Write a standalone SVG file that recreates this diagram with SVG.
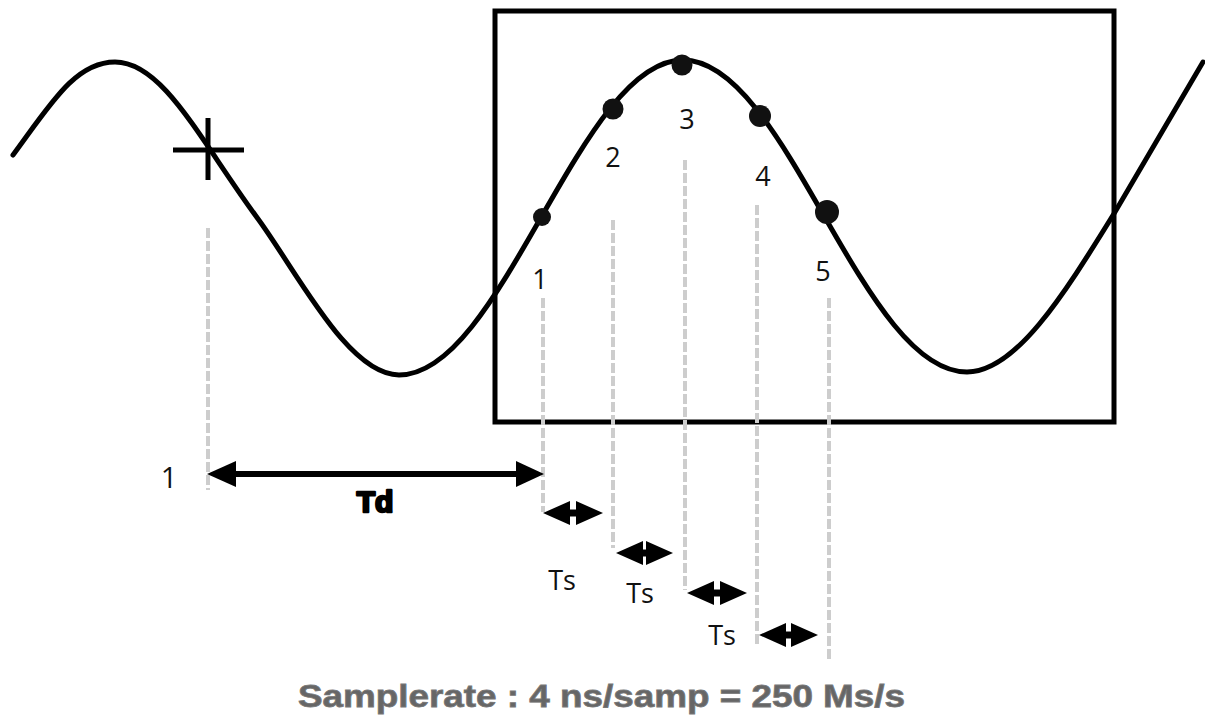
<svg xmlns="http://www.w3.org/2000/svg" width="1205" height="718" viewBox="0 0 1205 718">
<style>
.wave{fill:none;stroke:#000;stroke-width:5;stroke-linecap:round;stroke-linejoin:round}
.box{fill:none;stroke:#000;stroke-width:5}
.guide{stroke:#cdcdcd;stroke-width:4;stroke-dasharray:10 3;fill:none}
.dot{fill:#111}
.lbl{font-family:"Open Sans","Liberation Sans",sans-serif;font-size:27px;fill:#111}
.arr{stroke:#000;stroke-width:5;fill:none}
.bar{stroke:#000;stroke-width:7;fill:none}
.head{fill:#000}
.td{font-family:"Liberation Sans",Arial,sans-serif;font-weight:bold;font-size:30px;fill:#000;stroke:#000;stroke-width:2.5;stroke-linejoin:round}
.cap{font-family:"Liberation Sans",Arial,sans-serif;font-weight:bold;font-size:31px;fill:#666;stroke:#777;stroke-width:0.8}
</style>
<rect width="1205" height="718" fill="#fff"/>
<g id="frame">
<rect class="box" x="495" y="11" width="619" height="411"/>
</g>
<g id="waveform">
<path class="wave" d="M13,155 C50,105 75,62 115,62 C163,62 200,140 257,217.5 C297,271.5 348,375 399,375 C450.4,375 494.7,298.2 541,217.5 C587.3,136.8 631.6,60 683,60 C734.4,60 778.7,136.8 825,217.5 C871.3,298.2 915.6,372 967,372 C1015,372 1062,298 1115,212 L1203,62"/>
</g>
<g id="trigger">
<line class="arr" x1="173" y1="150" x2="244" y2="150"/>
<line class="arr" x1="208" y1="118" x2="208" y2="180"/>
</g>
<g id="samples">
<circle class="dot" cx="542" cy="217" r="9"/>
<circle class="dot" cx="613" cy="109" r="10.5"/>
<circle class="dot" cx="682" cy="65" r="10.5"/>
<circle class="dot" cx="760" cy="116" r="11"/>
<circle class="dot" cx="827" cy="212" r="12"/>
<text class="lbl" x="540" y="289" text-anchor="middle">1</text>
<text class="lbl" x="613" y="167" text-anchor="middle">2</text>
<text class="lbl" x="687" y="129" text-anchor="middle">3</text>
<text class="lbl" x="763" y="186" text-anchor="middle">4</text>
<text class="lbl" x="823" y="281" text-anchor="middle">5</text>
</g>
<g id="connectors">
<line class="guide" x1="208" y1="228" x2="208" y2="490"/>
<line class="guide" x1="543" y1="298" x2="543" y2="512"/>
<line class="guide" x1="613" y1="220" x2="613" y2="548"/>
<line class="guide" x1="685" y1="160" x2="685" y2="590"/>
<line class="guide" x1="757" y1="205" x2="757" y2="645"/>
<line class="guide" x1="829" y1="298" x2="829" y2="662"/>
<line class="arr" x1="230" y1="474" x2="522" y2="474" style="stroke-width:6"/>
<polygon class="head" points="207,474 236,461 236,487"/>
<polygon class="head" points="544,474 516,461 516,487"/>
<g id="ts1">
<line class="bar" x1="560" y1="513" x2="586" y2="513"/>
<polygon class="head" points="543,513 570,501 570,525"/>
<polygon class="head" points="603,513 576,501 576,525"/>
</g>
<g id="ts2">
<line class="bar" x1="632" y1="553" x2="657" y2="553"/>
<polygon class="head" points="616,553 643,541 643,565"/>
<polygon class="head" points="673,553 646,541 646,565"/>
</g>
<g id="ts3">
<line class="bar" x1="704" y1="593" x2="730" y2="593"/>
<polygon class="head" points="687,593 714,581 714,605"/>
<polygon class="head" points="747,593 720,581 720,605"/>
</g>
<g id="ts4">
<line class="bar" x1="776" y1="635" x2="801" y2="635"/>
<polygon class="head" points="759,635 786,623 786,647"/>
<polygon class="head" points="818,635 791,623 791,647"/>
</g>
</g>
<g id="labels">
<text class="lbl" x="169" y="488" text-anchor="middle" style="font-size:29px">1</text>
<text class="td" x="375" y="512" text-anchor="middle">Td</text>
<text class="lbl" x="562" y="590" text-anchor="middle">Ts</text>
<text class="lbl" x="640" y="603" text-anchor="middle">Ts</text>
<text class="lbl" x="722" y="645" text-anchor="middle">Ts</text>
<text class="cap" x="298" y="707" textLength="607" lengthAdjust="spacingAndGlyphs">Samplerate : 4 ns/samp = 250 Ms/s</text>
</g>
</svg>
